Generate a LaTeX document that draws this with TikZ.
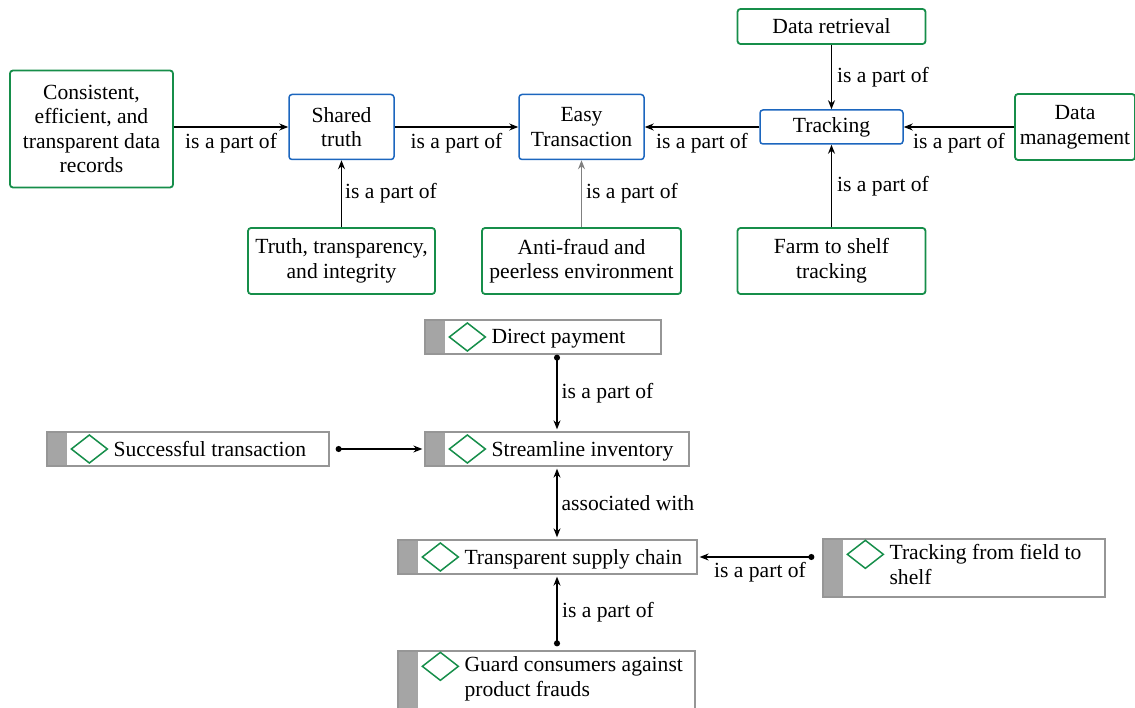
\documentclass[tikz,border=0pt]{standalone}
\usepackage{fontspec}
\setmainfont{Liberation Serif}
\usetikzlibrary{arrows.meta,calc}
\definecolor{gboxc}{RGB}{22,142,74}
\definecolor{bboxc}{RGB}{28,102,190}
\definecolor{barc}{RGB}{165,165,165}
\definecolor{edgec}{RGB}{150,150,150}
\begin{document}
\begin{tikzpicture}[x=1pt,y=-1pt,
  font=\fontsize{21.6}{24.6}\selectfont,
  gbox/.style={draw=gboxc, line width=1.8pt, rounded corners=3pt, align=center, inner sep=0pt},
  bbox/.style={draw=bboxc, line width=1.5pt, rounded corners=3pt, align=center, inner sep=0pt},
  graybox/.style={draw=edgec, line width=1.3pt, inner sep=0pt,
    path picture={\fill[barc] (path picture bounding box.north west) rectangle ([xshift=20pt]path picture bounding box.south west);}},
  dia/.style={draw=gboxc, line width=1.5pt},
  txt/.style={inner sep=0pt, align=left},
  arr/.style={line width=1.3pt, -{Stealth[length=9pt,width=7pt]}},
  arrg/.style={draw=gray, line width=1pt, -{Stealth[length=9pt,width=7pt]}},
  darr/.style={line width=1.3pt, {Circle[length=6pt]}-{Stealth[length=9pt,width=7pt]}},
  barr/.style={line width=1.3pt, {Stealth[length=9pt,width=7pt]}-{Stealth[length=9pt,width=7pt]}},
  lab/.style={inner sep=4pt}
]
\useasboundingbox (0,0) rectangle (1135,708);

% top part
\node[gbox, minimum width=163pt, minimum height=117pt] (cons) at (91.5,129) {Consistent,\\efficient, and\\transparent data\\records};
\node[bbox, minimum width=105pt, minimum height=65pt] (shared) at (341.5,127) {Shared\\truth};
\node[bbox, minimum width=125pt, minimum height=65pt] (easy) at (581.5,127) {Easy\\Transaction};
\node[bbox, minimum width=143pt, minimum height=34pt] (track) at (831.5,127) {Tracking};
\node[gbox, minimum width=188pt, minimum height=35pt] (dret) at (831.5,26.5) {Data retrieval};
\node[gbox, minimum width=120pt, minimum height=66pt] (dman) at (1075,127) {Data\\management};
\node[gbox, minimum width=187pt, minimum height=66pt] (truth) at (341.5,261) {Truth, transparency,\\and integrity};
\node[gbox, minimum width=199pt, minimum height=66pt] (anti) at (581.5,261) {Anti-fraud and\\peerless environment};
\node[gbox, minimum width=188pt, minimum height=66pt] (farm) at (831.5,261) {Farm to shelf\\tracking};

\draw[arr] (cons.east |- shared) -- node[lab, below, inner sep=6pt] (l1) {is a part of} (shared);
\draw[arr] (shared) -- node[lab, below, inner sep=6pt] (l2) {is a part of} (easy);
\draw[arr] (track) -- node[lab, below, inner sep=6pt] (l3) {is a part of} (easy);
\draw[arr] (dman) -- node[lab, below, inner sep=6pt] (l4) {is a part of} (track);
\draw[arr] (dret) -- node[lab, right, inner sep=5pt] (l5) {is a part of} (track);
\draw[arr] (farm) -- node[lab, right, inner sep=5pt] (l6) {is a part of} (track);
\draw[arr] (truth) -- node[lab, right, inner sep=3pt] (l7) {is a part of} (shared);
\draw[arrg] (anti) -- node[lab, right, inner sep=4pt] (l8) {is a part of} (easy);

% bottom part
\node[graybox, minimum width=236pt, minimum height=34pt] (dpay) at (543,337) {};
\node[graybox, minimum width=282pt, minimum height=34pt] (succ) at (188,449) {};
\node[graybox, minimum width=264pt, minimum height=34pt] (stream) at (557,449) {};
\node[graybox, minimum width=299pt, minimum height=34pt] (tsc) at (547.5,557) {};
\node[graybox, minimum width=282pt, minimum height=58pt] (tff) at (964,568) {};
\node[graybox, minimum width=297pt, minimum height=60pt] (guard) at (546.5,681) {};

\foreach \b in {dpay,succ,stream,tsc}{
  \draw[dia] ([xshift=25pt]\b.west) -- ++(18,-14) -- ++(18,14) -- ++(-18,14) -- cycle;
}
\foreach \b in {tff,guard}{
  \draw[dia] ([xshift=25pt,yshift=-16pt]\b.north west) -- ++(18,-14) -- ++(18,14) -- ++(-18,14) -- cycle;
}
\node[txt, anchor=base west] (dpayt) at ([xshift=67pt,yshift=-7pt]dpay.west) {Direct payment};
\node[txt, anchor=base west] (succt) at ([xshift=67pt,yshift=-7pt]succ.west) {Successful transaction};
\node[txt, anchor=base west] (streamt) at ([xshift=67pt,yshift=-7pt]stream.west) {Streamline inventory};
\node[txt, anchor=base west] (tsct) at ([xshift=67pt,yshift=-7pt]tsc.west) {Transparent supply chain};
\node[txt, anchor=north west] (tfft) at ([xshift=67pt,yshift=-6pt]tff.north west) {Tracking from field to\\shelf};
\node[txt, anchor=north west] (guardt) at ([xshift=67pt,yshift=-6pt]guard.north west) {Guard consumers against\\product frauds};

\draw[darr, shorten >=2pt] (dpay.south -| stream) -- node[lab, right, inner sep=4pt] (l9) {is a part of} (stream.north);
\draw[darr, shorten <=6pt, shorten >=2pt] (succ) -- (stream);
\draw[barr, shorten <=2pt, shorten >=2pt] (stream.south) -- node[lab, right, inner sep=4pt] (l10) {associated with} (tsc.north -| stream);
\draw[darr, shorten <=8pt, shorten >=2pt] (tff.west |- tsc) -- node[lab, below, inner sep=5pt] (l11) {is a part of} (tsc.east);
\draw[darr, line width=2pt, shorten <=4pt, shorten >=2pt] (guard.north -| stream) -- node[lab, right, inner sep=4pt] (l12) {is a part of} (tsc.south -| stream);
\end{tikzpicture}
\end{document}
